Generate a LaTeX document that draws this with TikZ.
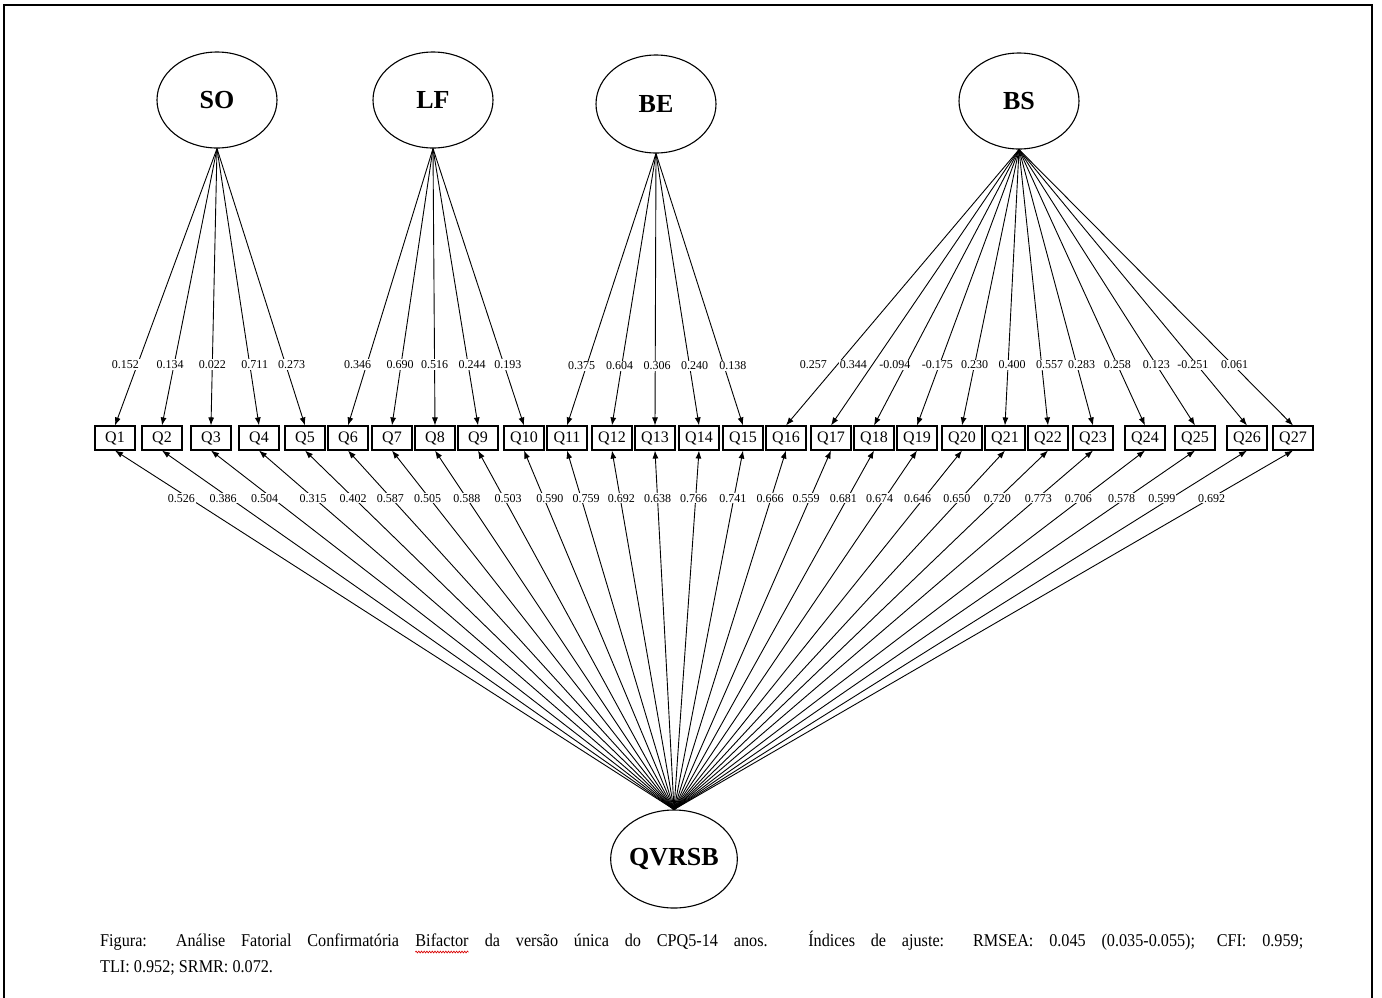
\documentclass[tikz,border=0pt]{standalone}
\usepackage{fontspec}
\setmainfont{Liberation Serif}
\usetikzlibrary{shapes.geometric,arrows.meta,decorations.pathmorphing}
\newcommand\spellmark[1]{\tikz[baseline=0pt,x=1pt,y=1pt]{\node[inner sep=0pt,anchor=base] (spellword) at (0,0) {#1};\draw[red!85!black,line width=0.7pt,decorate,decoration={snake,amplitude=0.9pt,segment length=3pt}] ([yshift=-6pt]spellword.base west) -- ([yshift=-6pt]spellword.base east);}}
\begin{document}
\begin{tikzpicture}[x=1pt,y=-1pt,
 latent/.style={ellipse,draw,line width=1.1pt,inner sep=0pt,minimum width=120pt,minimum height=96pt,font=\fontsize{26}{28}\selectfont\bfseries},
 item/.style={rectangle,draw,line width=1.1pt,minimum width=40pt,minimum height=24pt,inner sep=0pt,font=\fontsize{16}{18}\selectfont},
 load/.style={-{Latex[length=8pt,width=6pt]},line width=0.9pt},
 lbl/.style={fill=white,inner sep=1pt,font=\fontsize{12}{13}\selectfont},
 captxt/.style={anchor=base west,inner sep=0pt,font=\fontsize{18}{22}\selectfont}]
\useasboundingbox (0,0) rectangle (1382,997);
\fill[white] (0,0) rectangle (1382,997);
\draw[line width=2pt] (4,1000) -- (4,5) -- (1372,5) -- (1372,1000);
% latent factors
\node[latent] (SO) at (217,100) {SO};
\node[latent] (LF) at (433,100) {LF};
\node[latent,minimum height=98pt] (BE) at (656,104) {BE};
\node[latent] (BS) at (1019,101) {BS};
\node[latent,minimum height=98pt] (G) at (674,859) {QVRSB};
% items
\foreach \i/\x in {1/115,2/162,3/211,4/259,5/305,6/348,7/392,8/435,9/478,10/524,
  11/567,12/612,13/655,14/699,15/743,16/786,17/831,18/874,19/917,20/962,
  21/1005,22/1048,23/1093,24/1145,25/1195,26/1247,27/1293}
  \node[item] (Q\i) at (\x,438) {Q\i};
% specific loadings
\foreach \i/\v/\d in {1/0.152/-12,2/0.134/-4,3/0.022/0,4/0.711/5,5/0.273/6}
  \draw[load] (SO.south) -- node[lbl,pos=.78,xshift=\d pt]{\v} (Q\i.north);
\foreach \i/\v/\d in {6/0.346/-9,7/0.690/-1,8/0.516/0,9/0.244/4,10/0.193/4}
  \draw[load] (LF.south) -- node[lbl,pos=.78,xshift=\d pt]{\v} (Q\i.north);
\foreach \i/\v/\d in {11/0.375/-5,12/0.604/-2,13/0.306/2,14/0.240/5,15/0.138/9}
  \draw[load] (BE.south) -- node[lbl,pos=.78,xshift=\d pt]{\v} (Q\i.north);
\foreach \i/\v/\d in {16/0.257/-24,17/0.344/-19,18/-0.094/-11,19/-0.175/-2,20/0.230/0,
  21/0.400/4,22/0.557/8,23/0.283/5,24/0.258/0,25/0.123/0,26/-0.251/-4,27/0.061/2}
  \draw[load] (BS.south) -- node[lbl,pos=.78,xshift=\d pt]{\v} (Q\i.north);
% general loadings
\foreach \i/\v/\d in {1/0.526/-8,2/0.386/-7,3/0.504/-8,4/0.315/-1,5/0.402/-1,
  6/0.587/-1,7/0.505/-2,8/0.588/0,9/0.503/4,10/0.590/6,11/0.759/5,12/0.692/1,
  13/0.638/0,14/0.766/-2,15/0.741/-1,16/0.666/-1,17/0.559/-4,18/0.681/-4,
  19/0.674/-5,20/0.646/-6,21/0.650/-4,22/0.720/-1,23/0.773/1,24/0.706/-4,
  25/0.578/-4,26/0.599/-9,27/0.692/1}
  \draw[load] (G.north) -- node[lbl,pos=.867,xshift=\d pt]{\v} (Q\i.south);
% caption
\node[captxt] (cap1) at (100,946) {\scalebox{0.9}[1]{\makebox[1336.7pt][s]{Figura: Análise Fatorial Confirmatória \spellmark{Bifactor} da versão única do CPQ5-14 anos. Índices de ajuste: RMSEA: 0.045 (0.035-0.055); CFI: 0.959;}}};
\node[captxt] (cap2) at (100,972) {\scalebox{0.9}[1]{TLI: 0.952; SRMR: 0.072.}};
\end{tikzpicture}
\end{document}
